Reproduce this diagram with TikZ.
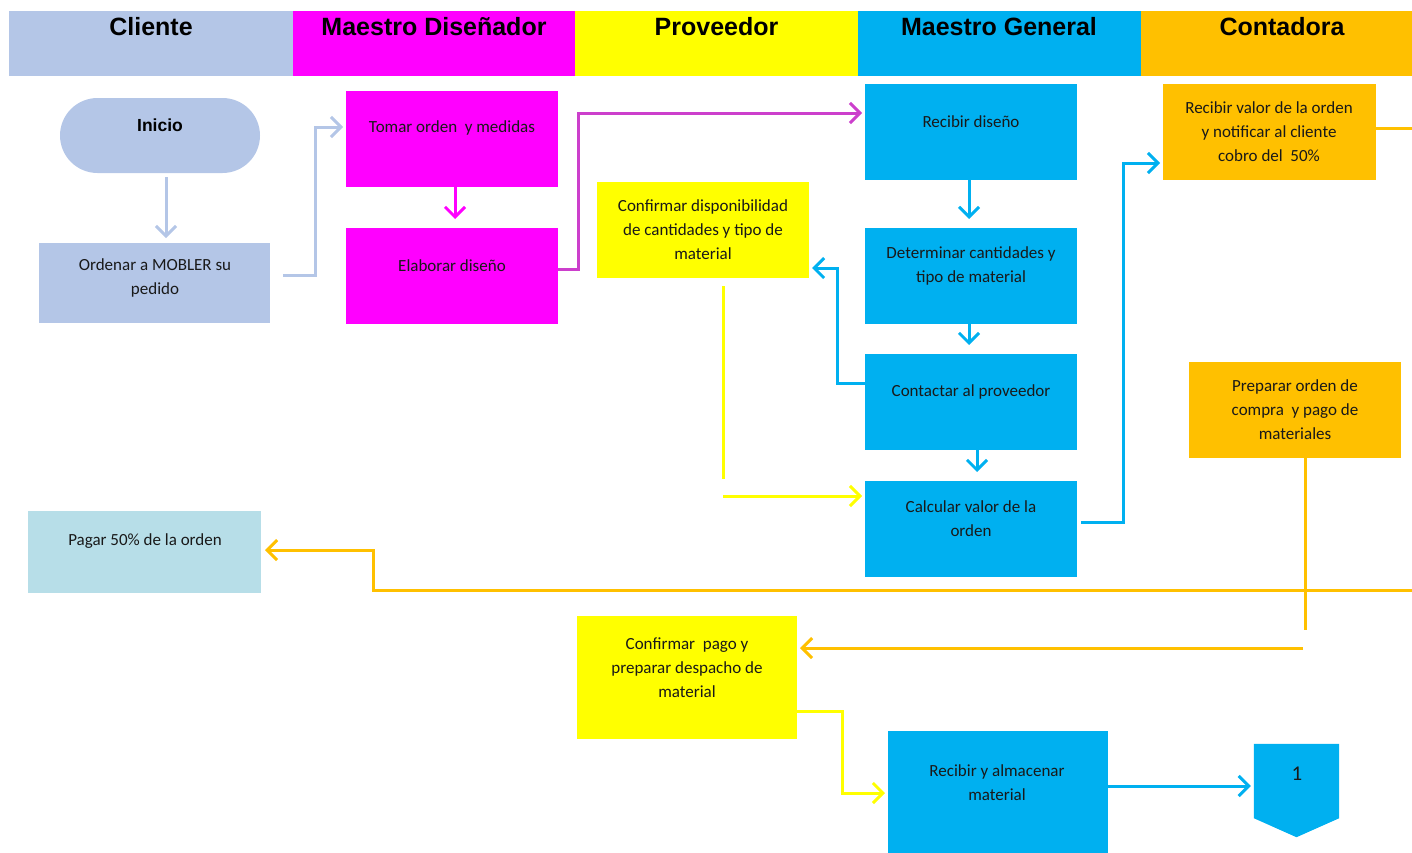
\documentclass[tikz,border=0pt]{standalone}
\usepackage{fontspec}
\setmainfont{Carlito}
\newfontfamily\arialfont{Liberation Sans}
\usetikzlibrary{calc,arrows.meta}
\definecolor{cLB}{HTML}{B4C6E7}
\definecolor{cMag}{HTML}{FF00FF}
\definecolor{cOrch}{HTML}{CC3FCC}
\definecolor{cY}{HTML}{FFFF00}
\definecolor{cCy}{HTML}{00B0F0}
\definecolor{cOr}{HTML}{FFC000}
\definecolor{cPag}{HTML}{B7DEE8}
\begin{document}
\begin{tikzpicture}[x=1pt,y=-1pt,
  box/.style={inner sep=0, outer sep=0, minimum width=212pt, minimum height=96pt},
  txt/.style={align=center, inner sep=0, yshift=-1.5pt, font=\fontsize{17}{24}\selectfont, text=black!90},
  lane/.style={inner sep=0, outer sep=0, minimum height=65pt, minimum width=283pt},
  head/.style={inner sep=0, font=\arialfont\bfseries\fontsize{25}{30}\selectfont},
  line/.style={line width=3pt},
  arr/.style={line, -{Straight Barb[length=10pt,width=20pt]}, shorten >=3pt},
]
\useasboundingbox (0,0) rectangle (1412,852);
\clip (0,0) rectangle (1412,852);

% swimlane headers
\node[lane, fill=cLB, minimum width=284pt] (l1) at (151,43.5) {};
\node[lane, fill=cMag, minimum width=282pt] (l2) at (434,43.5) {};
\node[lane, fill=cY] (l3) at (716.5,43.5) {};
\node[lane, fill=cCy] (l4) at (999.5,43.5) {};
\node[lane, fill=cOr] (l5) at (1282.5,43.5) {};
\node[head] (h1) at (151,26.5) {Cliente};
\node[head] (h2) at (434,26.5) {Maestro Diseñador};
\node[head] (h3) at (716.5,26.5) {Proveedor};
\node[head] (h4) at (999,26.5) {Maestro General};
\node[head] (h5) at (1282,26.5) {Contadora};

% Cliente
\node[inner sep=0, minimum width=200pt, minimum height=75pt, rounded corners=37.5pt, fill=cLB] (inicio) at (160,135.5) {};
\node[inner sep=0, font=\arialfont\bfseries\fontsize{17.5}{20}\selectfont] (inicioT) at (160,125) {Inicio};
\node[box, fill=cLB, minimum width=231pt, minimum height=80pt] (ordenar) at (154.5,283) {};
\node[txt] (ordenarT) at (155,276) {Ordenar a MOBLER su\\pedido};
\node[box, fill=cPag, minimum width=233pt, minimum height=82pt] (pagar) at (144.5,552) {};
\node[txt] (pagarT) at (145,540) {Pagar 50\% de la orden};

% Maestro Diseñador
\node[box, fill=cMag] (tomar) at (452,139) {};
\node[txt] (tomarT) at (452,126) {Tomar orden~ y medidas};
\node[box, fill=cMag] (elaborar) at (452,276) {};
\node[txt] (elaborarT) at (452,264) {Elaborar diseño};

% Proveedor
\node[box, fill=cY] (confdisp) at (703,230) {};
\node[txt] (confdispT) at (703,228) {Confirmar disponibilidad\\de cantidades y tipo de\\material};
\node[box, fill=cY, minimum width=220pt, minimum height=123pt] (pago) at (687,677.5) {};
\node[txt] (pagoT) at (687,666) {Confirmar~ pago y\\preparar despacho de\\material};

% Maestro General
\node[box, fill=cCy] (recdis) at (971,132) {};
\node[txt] (recdisT) at (971,120) {Recibir diseño};
\node[box, fill=cCy] (determinar) at (971,276) {};
\node[txt] (determinarT) at (971,264) {Determinar cantidades y\\tipo de material};
\node[box, fill=cCy] (contactar) at (971,402) {};
\node[txt] (contactarT) at (971,390) {Contactar al proveedor};
\node[box, fill=cCy] (calcular) at (971,529) {};
\node[txt] (calcularT) at (971,517.5) {Calcular valor de la\\orden};
\node[box, fill=cCy, minimum width=220pt, minimum height=124pt] (almacen) at (998,793) {};
\node[txt] (almacenT) at (997,781) {Recibir y almacenar\\material};

% off-page connector
\node[inner sep=0, minimum width=85pt, minimum height=74pt] (off) at (1296.5,781) {};
\fill[cCy] (off.north west) -- (off.north east) -- (off.south east)
  -- ($(off.south)+(0,19)$) -- (off.south west) -- cycle;
\node[txt, font=\fontsize{21}{24}\selectfont] (offT) at (1297,772) {1};

% Contadora
\node[box, fill=cOr, minimum width=213pt] (recval) at (1269.5,132) {};
\node[txt] (recvalT) at (1269,130) {Recibir valor de la orden\\y notificar al cliente\\cobro del~ 50\%};
\node[box, fill=cOr] (preparar) at (1295,410) {};
\node[txt] (prepararT) at (1295,408.5) {Preparar orden de\\compra~ y pago de\\materiales};

% connectors
\draw[arr, cLB, shorten >=5pt] ($(inicio.south)+(6,4)$) coordinate (a1) -- (a1 |- ordenar.north);
\draw[arr, cLB] ($(ordenar.east)+(13,-8)$) -- ++(32,0) |- ($(tomar.west)+(0,-12)$);
\draw[arr, cMag, shorten >=9pt] ($(tomar.south)+(3,0)$) -- ($(elaborar.north)+(3,0)$);
\draw[arr, cOrch] ($(elaborar.east)+(0,-7)$) -- ++(20,0) |- ($(recdis.west)+(0,-19)$);
\draw[arr, cCy, shorten >=9pt] ($(recdis.south)+(-2,0)$) -- ($(determinar.north)+(-2,0)$);
\draw[arr, cCy, shorten >=9pt] ($(determinar.south)+(-2,0)$) -- ($(contactar.north)+(-2,0)$);
\draw[arr, cCy] ($(contactar.west)+(0,-19)$) -- ++(-28,0) |- ($(confdisp.east)+(0,38)$);
\draw[arr, cCy, shorten >=9pt] ($(contactar.south)+(6,0)$) -- ($(calcular.north)+(6,0)$);
\draw[line, cY] ($(confdisp.south)+(20,8)$) -- ++(0,193);
\coordinate (yb) at (723,496);
\draw[arr, cY] (yb) -- (yb -| calcular.west);
\draw[arr, cCy] ($(calcular.east)+(4,-7)$) -- ++(42,0) |- ($(recval.west)+(0,31)$);
\coordinate (edgeA) at (1412,128);
\draw[line, cOr] ($(recval.east)+(0,-4)$) -- (edgeA);
\coordinate (edgeB) at (1412,590);
\draw[arr, cOr, shorten >=4pt] (edgeB) -| ($(pagar.east)+(112,-2)$) -- ($(pagar.east)+(0,-2)$);
\draw[line, cOr] ($(preparar.south)+(10,0)$) -- ++(0,172);
\coordinate (ob) at (1303,648);
\draw[arr, cOr] (ob) -- (ob -| pago.east);
\draw[arr, cY] ($(pago.east)+(0,33.5)$) -- ++(45,0) |- (almacen.west);
\draw[arr, cCy] ($(almacen.east)+(0,-7)$) -- ($(off.west)+(0,5)$);
\end{tikzpicture}
\end{document}
